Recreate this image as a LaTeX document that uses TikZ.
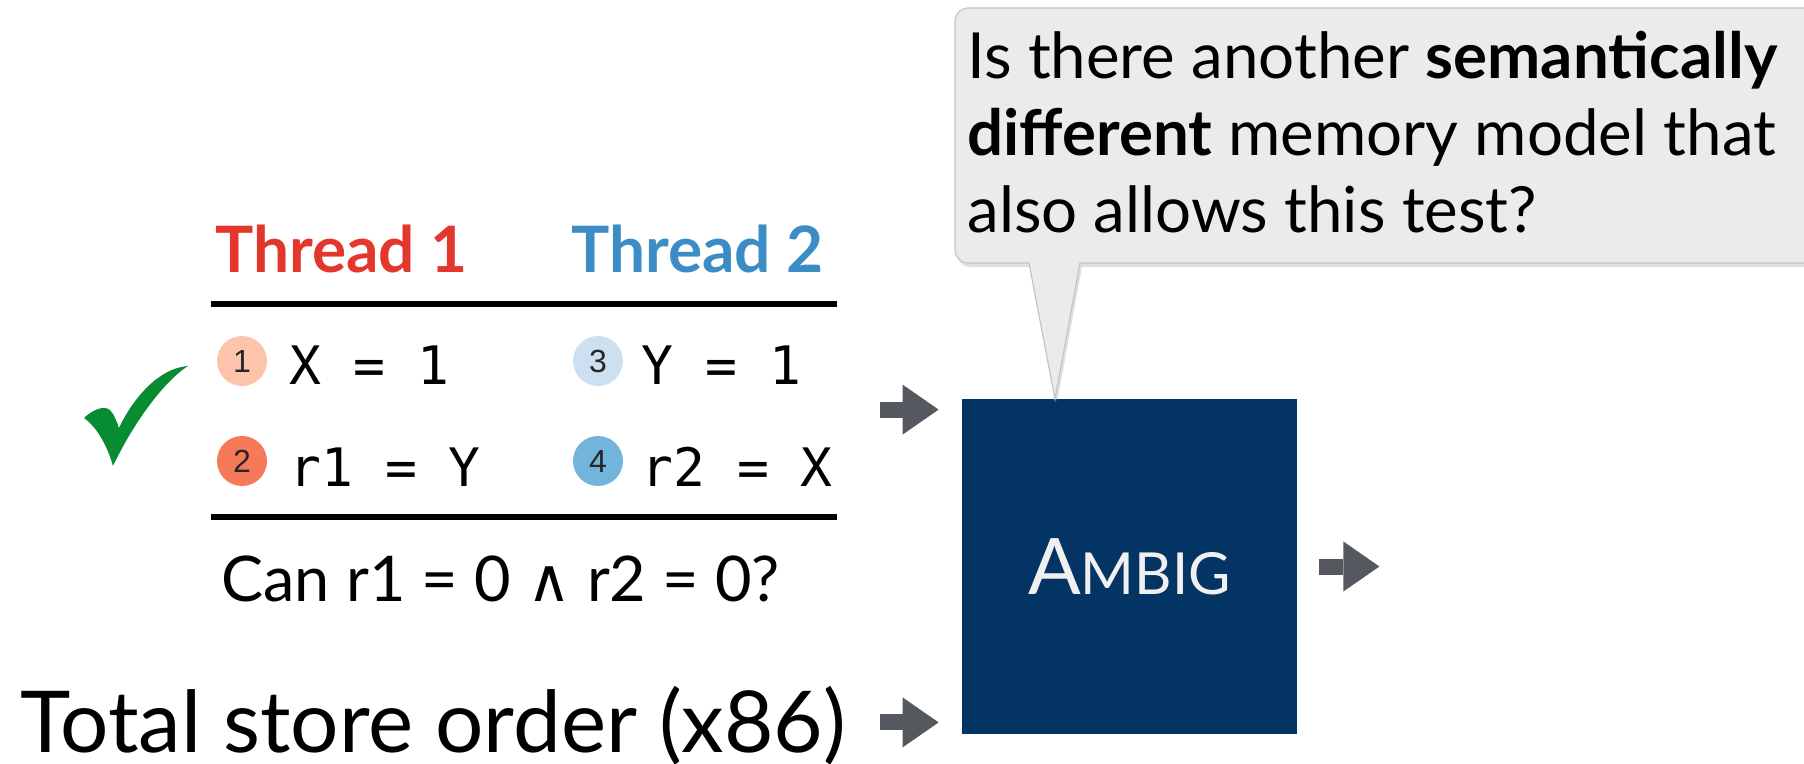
\documentclass[tikz,border=0pt]{standalone}
\usepackage{fontspec}
\setmainfont{Lato}
\setmonofont{DejaVu Sans Mono}
\newfontfamily\digitfont{Liberation Sans}
\newfontfamily\wedgefont{DejaVu Sans}
\usetikzlibrary{arrows.meta,positioning,shadows}
\definecolor{threadred}{HTML}{E3372D}
\definecolor{threadblue}{HTML}{3C8DC6}
\definecolor{dotone}{HTML}{FCC5AB}
\definecolor{dottwo}{HTML}{F67A5A}
\definecolor{dotthree}{HTML}{CCE0F1}
\definecolor{dotfour}{HTML}{72B4DB}
\definecolor{tickgreen}{HTML}{078C32}
\definecolor{navy}{HTML}{033464}
\definecolor{arrowgray}{HTML}{55585E}
\definecolor{calloutfill}{HTML}{EBEBEB}
\definecolor{calloutedge}{HTML}{C4C4C4}

\begin{document}
\begin{tikzpicture}[
  x=0.5pt, y=-0.5pt,
  every node/.style={inner sep=0pt},
  head/.style={font=\fontsize{32}{38}\selectfont\bfseries, anchor=base west},
  numdot/.style={circle, minimum size=25pt, text=black!85, font=\digitfont\fontsize{16}{16}\selectfont},
  codetxt/.style={font=\ttfamily\fontsize{26.5}{27}\selectfont, anchor=base west},
  hrule/.style={line width=3pt},
  fatarr/.style={line width=8pt, draw=arrowgray, -{Triangle[length=18pt, width=25pt, line width=0pt]}},
  modelbox/.style={fill=navy, minimum width=167.5pt, minimum height=167.5pt, text=white!94!black},
  callout/.style={fill=calloutfill, draw=calloutedge, line width=0.6pt, drop shadow={opacity=0.25, shadow xshift=1pt, shadow yshift=-2pt}}
]
\useasboundingbox (0,0) rectangle (1804,764);

\node[head, text=threadred] (t1) at (215,273) {Thread 1};
\node[head, text=threadblue] (t2) at (571,273) {Thread 2};
\draw[hrule] (211,304) -- (837,304);
\draw[hrule] (211,517) -- (837,517);

\node[numdot, fill=dotone] (c1) at (242,361) {1};
\node[numdot, fill=dottwo] (c2) at (242,461) {2};
\node[numdot, fill=dotthree] (c3) at (598,361) {3};
\node[numdot, fill=dotfour] (c4) at (598,461) {4};
\node[codetxt] (s1) at (289,385) {X = 1};
\node[codetxt] (s2) at (289,487) {r1 = Y};
\node[codetxt] (s3) at (641,385) {Y = 1};
\node[codetxt] (s4) at (641,487) {r2 = X};

\fill[tickgreen] (84,418) .. controls (92,410) and (104,405) .. (110,410) .. controls (114,414) and (117,422) .. (119,428) .. controls (132,400) and (158,368) .. (188,366) .. controls (166,380) and (136,418) .. (113,466) .. controls (108,448) and (98,428) .. (84,418) -- cycle;

\node[anchor=base west, font=\fontsize{31.5}{36}\selectfont] (cond) at (221,601) {Can r1 = 0 {\wedgefont\fontsize{30}{30}\selectfont ∧} r2 = 0?};
\node[anchor=base west, font=\fontsize{42.7}{50}\selectfont] (tso) at (20,752) {Total store order (x86)};

\node[modelbox] (ambig) at (1129.5,566.5) {{\fontsize{39}{39}\selectfont A}{\fontsize{29}{29}\selectfont MBIG}};

\draw[fatarr] ([xshift=-41pt, yshift=-5.5pt]ambig.north west) -- ([xshift=-11.5pt, yshift=-5.5pt]ambig.north west);
\draw[fatarr] ([xshift=-41pt, yshift=6pt]ambig.south west) -- ([xshift=-11.5pt, yshift=6pt]ambig.south west);
\draw[fatarr] ([xshift=11pt]ambig.east) -- ([xshift=41pt]ambig.east);

\path[callout] (1029,263) -- (1055,399) -- (1080,263) [rounded corners=6.5pt] -- (1850,263) -- (1850,8) -- (955,8) -- (955,263) [sharp corners] -- cycle;
\node[anchor=base west, align=left, font=\fontsize{31.8}{38.5}\selectfont] (q) at (967,233) {Is there another \textbf{semantically}\\\textbf{different} memory model that\\also allows this test?};
\end{tikzpicture}
\end{document}
